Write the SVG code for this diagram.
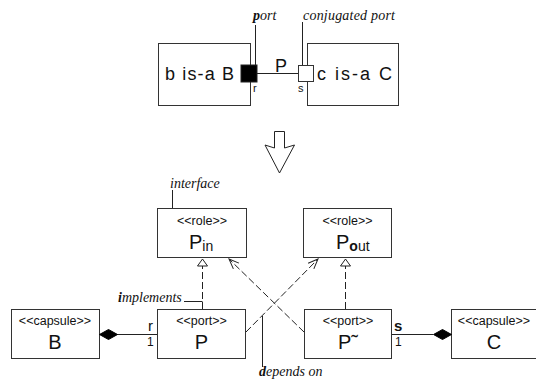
<svg xmlns="http://www.w3.org/2000/svg" width="536" height="380" viewBox="0 0 536 380">
<defs>
<style>
.box{fill:#fff;stroke:#333;stroke-width:1}
.ln{fill:none;stroke:#222;stroke-width:1}
.dash{fill:none;stroke:#222;stroke-width:1;stroke-dasharray:7,3}
.sans{font-family:"Liberation Sans",Arial,sans-serif;fill:#111}
.ital{font-family:"Liberation Serif","Times New Roman",serif;font-style:italic;font-size:14px;fill:#111}
.st{font-size:12.5px;text-anchor:middle}
.big{font-size:20px;text-anchor:middle}
</style>
<marker id="tri" markerUnits="userSpaceOnUse" markerWidth="9" markerHeight="12" refX="7" refY="5" orient="auto" overflow="visible">
<path d="M0,0 L7,5 L0,10 Z" fill="#fff" stroke="#222" stroke-width="1" stroke-dasharray="none"/>
</marker>
<marker id="open" markerUnits="userSpaceOnUse" markerWidth="12" markerHeight="10" refX="10" refY="4" orient="auto" overflow="visible">
<path d="M0,0 L10,4 L0,8" fill="none" stroke="#222" stroke-width="1" stroke-dasharray="none"/>
</marker>
</defs>
<rect width="536" height="380" fill="#fff"/>

<!-- top: b is-a B -->
<g id="b_top">
<rect class="box" x="158.5" y="43.5" width="92" height="62"/>
<text class="sans" x="165" y="80" font-size="18" textLength="69" lengthAdjust="spacing">b is-a B</text>
</g>
<g id="c_top">
<rect class="box" x="307.5" y="43.5" width="91" height="62"/>
<text class="sans" x="317" y="80" font-size="18" textLength="75" lengthAdjust="spacing">c is-a C</text>
</g>
<g id="port_r">
<rect x="241" y="65" width="16" height="17" fill="#000" stroke="#222"/>
<text class="sans" x="253" y="92" font-size="11">r</text>
</g>
<g id="port_s">
<rect x="298.5" y="65.5" width="15" height="16" fill="#fff" stroke="#333"/>
<text class="sans" x="298" y="92" font-size="11">s</text>
</g>
<g id="top_connectors">
<line class="ln" x1="257" y1="73.5" x2="298" y2="73.5"/>
<text class="sans" x="281" y="71.5" font-size="18" text-anchor="middle">P</text>
<line class="ln" x1="255.5" y1="25" x2="255.5" y2="65"/>
<text class="ital" x="253" y="20"><tspan font-weight="bold">p</tspan>ort</text>
<line class="ln" x1="302.5" y1="22" x2="302.5" y2="65"/>
<text class="ital" x="303" y="20" textLength="92" lengthAdjust="spacing">conjugated port</text>
</g>

<!-- transformation arrow -->
<g id="transform_arrow">
<path d="M274.5,131.5 L284.5,131.5 L284.5,148 L294.5,145 L279.5,173 L265,145 L274.5,148 Z" fill="#fff" stroke="#222" stroke-width="1"/>
</g>

<!-- roles -->
<g id="Pin">
<rect class="box" x="157.5" y="208.5" width="89" height="49"/>
<text class="sans st" x="202" y="225">&lt;&lt;role&gt;&gt;</text>
<text class="sans" x="189" y="249" font-size="20">P<tspan font-size="14" dy="1.5">in</tspan></text>
<line class="ln" x1="172.5" y1="190" x2="172.5" y2="208"/>
<text class="ital" x="170" y="188">interface</text>
</g>
<g id="Pout">
<rect class="box" x="303.5" y="208.5" width="88" height="49"/>
<text class="sans st" x="347.5" y="225">&lt;&lt;role&gt;&gt;</text>
<text class="sans" x="336" y="249" font-size="20">P<tspan font-size="14" dy="1.5"><tspan font-weight="bold">o</tspan>ut</tspan></text>
</g>

<!-- bottom row -->
<g id="capsule_B">
<rect class="box" x="11.5" y="309.5" width="88" height="49"/>
<text class="sans st" x="55" y="325">&lt;&lt;capsule&gt;&gt;</text>
<text class="sans big" x="55" y="349">B</text>
</g>
<g id="port_P">
<rect class="box" x="157.5" y="309.5" width="88" height="49"/>
<text class="sans st" x="201.5" y="325">&lt;&lt;port&gt;&gt;</text>
<text class="sans big" x="201.5" y="349">P</text>
</g>
<g id="port_Pconj">
<rect class="box" x="304.5" y="309.5" width="87" height="49"/>
<text class="sans st" x="348" y="325">&lt;&lt;port&gt;&gt;</text>
<text class="sans big" x="348" y="349">P˜</text>
</g>
<g id="capsule_C">
<rect class="box" x="451.5" y="309.5" width="88" height="49"/>
<text class="sans st" x="494" y="325">&lt;&lt;capsule&gt;&gt;</text>
<text class="sans big" x="494" y="349">C</text>
</g>

<g id="connectors">
<!-- composition B - P -->
<line class="ln" x1="117" y1="334.5" x2="157" y2="334.5"/>
<path d="M99.5,334.5 L108.5,329.5 L117.5,334.5 L108.5,339.5 Z" fill="#000" stroke="#000"/>
<text class="sans" x="148" y="331" font-size="15">r</text>
<text class="sans" x="147" y="346" font-size="12">1</text>
<!-- composition C - P~ -->
<line class="ln" x1="392" y1="334.5" x2="433" y2="334.5"/>
<path d="M433.5,334.5 L442.5,329.5 L451.5,334.5 L442.5,339.5 Z" fill="#000" stroke="#000"/>
<text class="sans" x="394" y="331" font-size="15" font-weight="bold">s</text>
<text class="sans" x="395" y="346" font-size="12">1</text>
<!-- realizations -->
<line class="dash" x1="202.5" y1="309" x2="202.5" y2="259" marker-end="url(#tri)"/>
<line class="dash" x1="345.5" y1="309" x2="345.5" y2="259" marker-end="url(#tri)"/>
<!-- dependencies -->
<line class="dash" x1="246" y1="332" x2="318" y2="259" marker-end="url(#open)"/>
<line class="dash" x1="304" y1="332" x2="229" y2="259" marker-end="url(#open)"/>
<!-- annotations -->
<line class="ln" x1="184" y1="301.5" x2="202.5" y2="301.5"/>
<text class="ital" x="118" y="302"><tspan font-weight="bold">i</tspan>mplements</text>
<line class="ln" x1="262.5" y1="316" x2="262.5" y2="367"/>
<text class="ital" x="259" y="376"><tspan font-weight="bold">d</tspan>epends on</text>
</g>
</svg>
